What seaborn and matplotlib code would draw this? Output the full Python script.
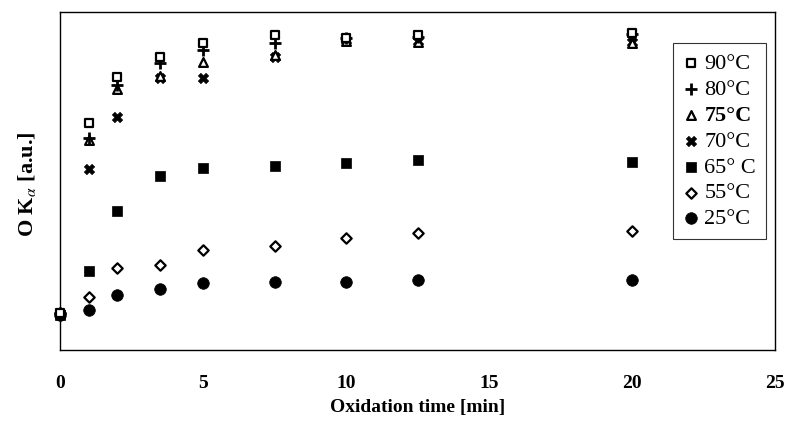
import matplotlib
matplotlib.use("Agg")
import matplotlib.pyplot as plt
import seaborn as sns
import pandas as pd

# ---- data (arbitrary units) ----
time_min = [0, 1, 2, 3.5, 5, 7.5, 10, 12.5, 20]
s90 = [10.9, 67.2, 80.8, 86.7, 90.8, 93.2, 92.3, 93.2, 93.8]
s80 = [10.9, 62.7, 78.4, 84.9, 88.8, 90.8, 92.3, 92.6, 93.5]
s75 = [10.9, 62.1, 77.2, 81.1, 85.2, 87.3, 91.4, 91.1, 90.8]
s70 = [10.9, 53.6, 68.9, 80.5, 80.5, 86.7, 91.7, 91.4, 91.1]
s65 = [10.4, 23.4, 41.1, 51.5, 53.8, 54.4, 55.3, 56.2, 55.6]
s55 = [10.9, 15.7, 24.3, 25.1, 29.6, 30.8, 33.1, 34.6, 35.2]
s25 = [10.4, 11.8, 16.3, 18.0, 19.8, 20.1, 20.1, 20.7, 20.7]
labels = ["90°C", "80°C", "75°C", "70°C", "65° C", "55°C", "25°C"]
x_ticks = [0, 5, 10, 15, 20, 25]

series = [s90, s80, s75, s70, s65, s55, s25]
rows = []
for lab, vals in zip(labels, series):
    for t, v in zip(time_min, vals):
        rows.append({"time": t, "value": v, "series": lab})
df = pd.DataFrame(rows)

sns.set_theme(style="white")
plt.rcParams["font.family"] = ["Liberation Serif", "DejaVu Serif"]
plt.rcParams["mathtext.fontset"] = "stix"
plt.rcParams["text.color"] = "black"
plt.rcParams["axes.labelcolor"] = "black"
plt.rcParams["xtick.color"] = "black"
plt.rcParams["ytick.color"] = "black"

fig = plt.figure(figsize=(7.88, 4.36), dpi=100)
ax = fig.add_axes([60 / 788, 86 / 436, 715 / 788, 338 / 436])

styles = {
    "90°C": dict(marker="s", s=36, facecolor="white", edgecolor="black", linewidth=1.6),
    "80°C": dict(marker="+", s=70, color="black", linewidth=2.0),
    "75°C": dict(marker="^", s=40, facecolor="white", edgecolor="black", linewidth=1.6),
    "70°C": dict(marker="X", s=55, color="black", edgecolor="black", linewidth=0.5),
    "65° C": dict(marker="s", s=55, color="black", edgecolor="black", linewidth=0.5),
    "55°C": dict(marker="D", s=28, facecolor="white", edgecolor="black", linewidth=1.6),
    "25°C": dict(marker="o", s=70, color="black", edgecolor="black", linewidth=0.5),
}

# draw from bottom series up so upper markers overlay like reference
for lab in labels[::-1]:
    sub = df[df["series"] == lab]
    sns.scatterplot(data=sub, x="time", y="value", ax=ax, label=lab,
                    clip_on=False, zorder=3, **styles[lab])

ax.set_xlim(0, 25)
ax.set_ylim(0, 100)
ax.set_xticks(x_ticks)
ax.set_xticklabels([str(t) for t in x_ticks], fontsize=14, fontweight="bold")
ax.set_yticks([])
ax.tick_params(axis="x", direction="out", length=4, width=1, color="black", pad=14)
for sp in ax.spines.values():
    sp.set_visible(True)
    sp.set_color("black")
    sp.set_linewidth(1.0)
    sp.set_zorder(1)

ax.set_xlabel("Oxidation time [min]", fontsize=14, fontweight="bold", labelpad=5)
ax.set_ylabel(r"O K$_\alpha$ [a.u.]", fontsize=16, fontweight="bold")
ax.yaxis.set_label_coords(-0.031, 0.49)

handles, labs = ax.get_legend_handles_labels()
order = [labs.index(l) for l in labels]
leg = ax.legend([handles[i] for i in order], [labs[i] for i in order],
                loc="upper right", bbox_to_anchor=(0.9875, 0.907),
                frameon=True, fancybox=False, edgecolor="black",
                fontsize=16, handletextpad=0.25, handlelength=0.7,
                labelspacing=0.24, borderpad=0.45, borderaxespad=0)
leg.get_frame().set_linewidth(0.8)
leg.set_zorder(5)
for txt in leg.get_texts():
    if txt.get_text() == "75°C":
        txt.set_fontweight("bold")

fig.savefig("out.png", dpi=100)
